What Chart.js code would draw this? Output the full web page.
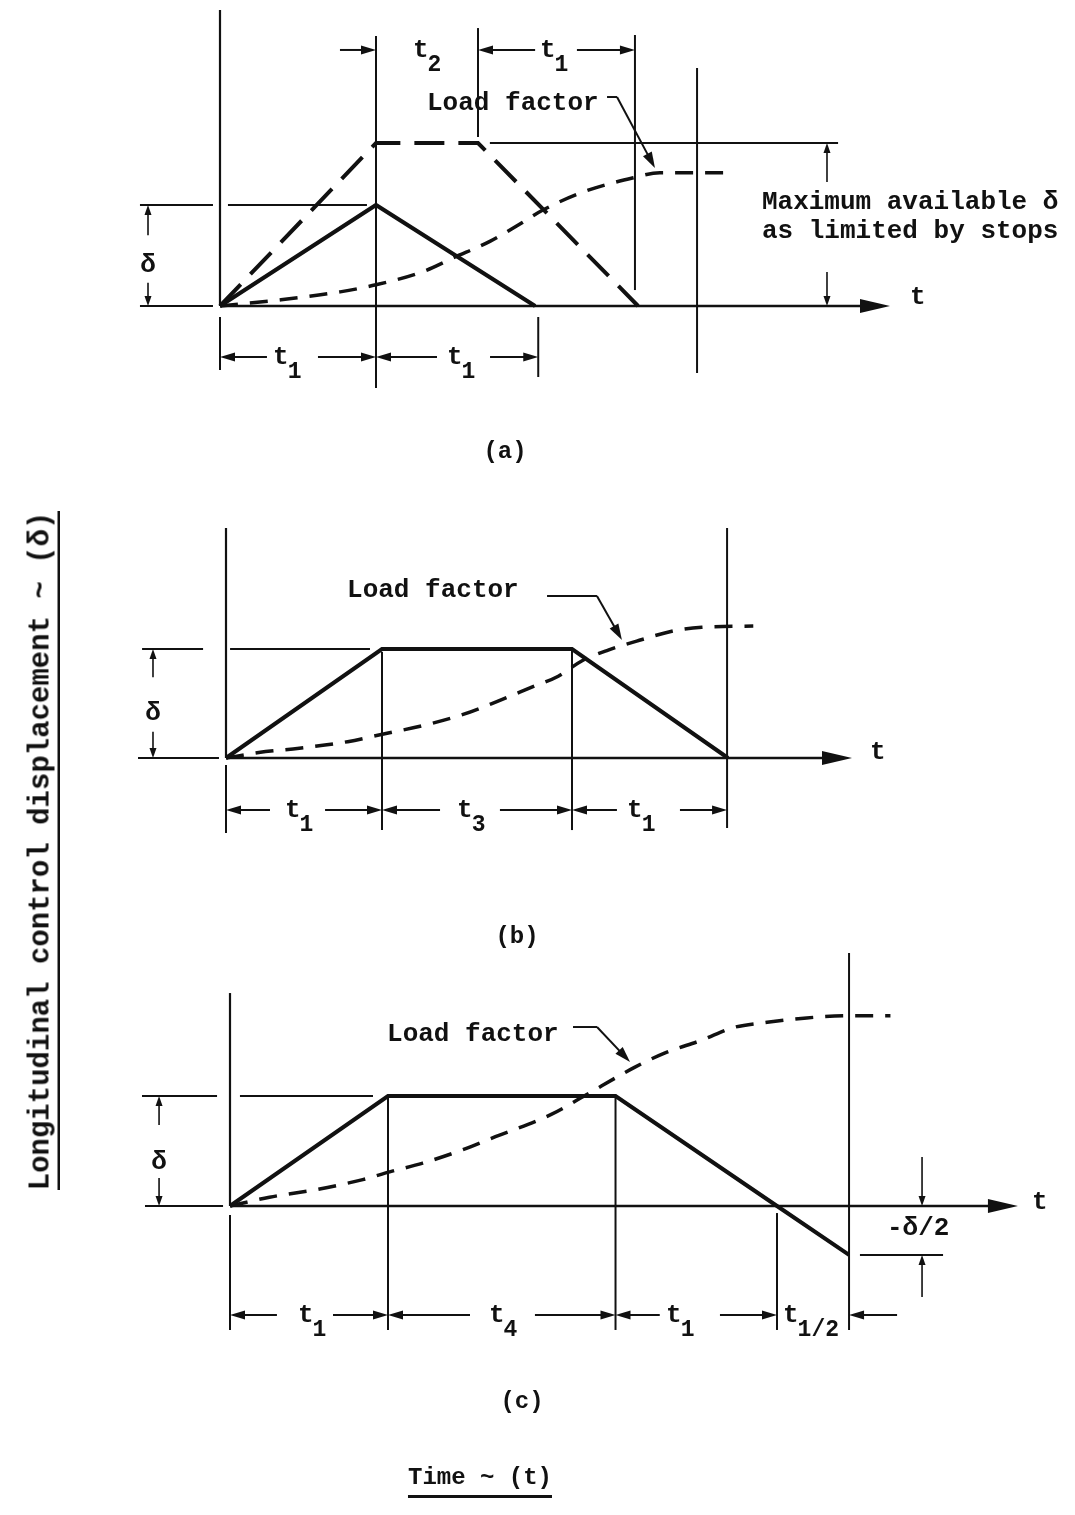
<!DOCTYPE html>
<html>
<head>
<meta charset="utf-8">
<script src="https://cdn.jsdelivr.net/npm/chart.js@4.4.1/dist/chart.umd.min.js"></script>
<style>
  body { margin: 0; background: #fff; width: 1075px; height: 1515px; position: relative; overflow: hidden; }
  canvas { position: absolute; left: 0; top: 0; }
  .cap { position: absolute; font: bold 24px "Liberation Mono", monospace; color: #111;
         transform: translate(-50%, -50%); white-space: nowrap; line-height: 1; }
  .ylab { position: absolute; left: 43px; top: 851px; font: bold 29px "Liberation Mono", monospace; color: #111;
          transform: translate(-50%, -50%) rotate(-90deg); white-space: nowrap; line-height: 1;
          border-bottom: 2px solid #111; padding-bottom: 2px; }
  .xlab { position: absolute; left: 480px; top: 1482px; font: bold 24px "Liberation Mono", monospace; color: #111;
          transform: translate(-50%, -50%); white-space: nowrap; line-height: 1;
          border-bottom: 3px solid #111; padding-bottom: 5px; }
</style>
</head>
<body>
<canvas id="pa" width="1075" height="1515"></canvas>
<canvas id="pb" width="1075" height="1515"></canvas>
<canvas id="pc" width="1075" height="1515"></canvas>
<div class="cap" style="left:505px; top:452px">(a)</div>
<div class="cap" style="left:517px; top:937px">(b)</div>
<div class="cap" style="left:522px; top:1402px">(c)</div>
<div class="ylab">Longitudinal control displacement ~ (δ)</div>
<div class="xlab">Time ~ (t)</div>
<script>
// time is in units of t1, displacement in units of delta

// (a) stick pulse, pulse limited by stops, load factor
var aStickT = [0, 1, 2.02];
var aStickD = [0, 1, 0];
var aStopT = [0, 1, 1.654, 2.68];
var aStopD = [0, 1.614, 1.614, 0];
var aLoadT = [0, 0.38, 0.77, 1.0, 1.30, 1.50, 1.73, 1.92, 2.07, 2.33, 2.65, 2.82, 3.06, 3.27];
var aLoadN = [0, 0.06, 0.14, 0.21, 0.34, 0.48, 0.64, 0.81, 0.95, 1.13, 1.27, 1.32, 1.32, 1.32];

// (b) hold for t3
var bStickT = [0, 1, 2.218, 3.218];
var bStickD = [0, 1, 1, 0];
var bLoadT = [0, 0.21, 0.47, 0.78, 1.01, 1.27, 1.52, 1.74, 1.96, 2.13, 2.28, 2.45, 2.65, 2.88, 3.05, 3.38];
var bLoadN = [0, 0.05, 0.09, 0.15, 0.22, 0.30, 0.40, 0.52, 0.65, 0.75, 0.89, 0.99, 1.08, 1.17, 1.20, 1.21];

// (c) hold for t4, then check to -delta/2
var cStickT = [0, 1, 2.44, 3.462, 3.918];
var cStickD = [0, 1, 1, 0, -0.445];
var cLoadT = [0, 0.25, 0.55, 0.84, 1.01, 1.22, 1.47, 1.68, 2.03, 2.23, 2.56, 2.75, 2.99, 3.18, 3.40, 3.65, 3.92, 4.18];
var cLoadN = [0, 0.08, 0.15, 0.24, 0.31, 0.39, 0.51, 0.63, 0.83, 0.99, 1.26, 1.39, 1.51, 1.62, 1.67, 1.71, 1.73, 1.73];

var W = 1075, H = 1515;
var INK = '#111';
var FONT = '"Liberation Mono", "DejaVu Sans Mono", monospace';

// arrowhead shapes: length, half width
var HEADS = {
  small: { len: 10, hw: 3.5 },
  dim:   { len: 15, hw: 4.5 },
  lead:  { len: 16, hw: 5 },
  big:   { len: 30, hw: 7 }
};

function pts(xs, ys) {
  return xs.map(function(x, i) { return { x: x, y: ys[i] }; });
}

function sketchPlugin(notes) {
  return {
    id: 'sketch',
    beforeDatasetsDraw: function(chart) {
      var ctx = chart.ctx, sx = chart.scales.x, sy = chart.scales.y;
      ctx.save();
      ctx.strokeStyle = INK;
      ctx.fillStyle = INK;
      ctx.lineCap = 'butt';
      notes.lines.forEach(function(l) {
        var x1 = sx.getPixelForValue(l[0]), y1 = sy.getPixelForValue(l[1]);
        var x2 = sx.getPixelForValue(l[2]), y2 = sy.getPixelForValue(l[3]);
        var head = HEADS[l[5]];
        var dx = x2 - x1, dy = y2 - y1, d = Math.sqrt(dx * dx + dy * dy) || 1;
        var ux = dx / d, uy = dy / d;
        var ex = x2, ey = y2;
        if (head) { ex = x2 - ux * head.len * 0.7; ey = y2 - uy * head.len * 0.7; }
        ctx.lineWidth = l[4] || 2;
        ctx.beginPath();
        ctx.moveTo(x1, y1);
        ctx.lineTo(ex, ey);
        ctx.stroke();
        if (head) {
          ctx.beginPath();
          ctx.moveTo(x2, y2);
          ctx.lineTo(x2 - ux * head.len - uy * head.hw, y2 - uy * head.len + ux * head.hw);
          ctx.lineTo(x2 - ux * head.len + uy * head.hw, y2 - uy * head.len - ux * head.hw);
          ctx.closePath();
          ctx.fill();
        }
      });
      ctx.restore();
    },
    afterDatasetsDraw: function(chart) {
      var ctx = chart.ctx, sx = chart.scales.x, sy = chart.scales.y;
      ctx.save();
      ctx.fillStyle = INK;
      notes.texts.forEach(function(t) {
        var x = sx.getPixelForValue(t[1]), y = sy.getPixelForValue(t[2]);
        var size = t[5] || 26;
        ctx.font = 'bold ' + size + 'px ' + FONT;
        ctx.textBaseline = 'middle';
        ctx.textAlign = 'left';
        var w = ctx.measureText(t[0]).width;
        var left = t[4] === 'center' ? x - w / 2 : x;
        ctx.fillText(t[0], left, y);
        if (t[3]) {
          ctx.font = 'bold 23px ' + FONT;
          ctx.textBaseline = 'alphabetic';
          ctx.fillText(t[3], left + w - 1, y + 21);
        }
      });
      ctx.restore();
    }
  };
}

function makePanel(id, frame, sets, notes) {
  var datasets = sets.map(function(s) {
    return {
      data: s.data,
      showLine: true,
      borderColor: INK,
      borderWidth: s.width,
      borderDash: s.dash || [],
      borderCapStyle: 'butt',
      borderJoinStyle: 'miter',
      pointRadius: 0,
      fill: false,
      tension: s.smooth ? 0.4 : 0,
      cubicInterpolationMode: s.smooth ? 'monotone' : 'default'
    };
  });
  return new Chart(document.getElementById(id), {
    type: 'scatter',
    data: { datasets: datasets },
    options: {
      responsive: false,
      animation: false,
      devicePixelRatio: 1,
      layout: { padding: 0 },
      events: [],
      plugins: { legend: { display: false }, tooltip: { enabled: false } },
      scales: {
        x: { type: 'linear', display: false, min: -frame.ox / frame.tx, max: (W - frame.ox) / frame.tx },
        y: { type: 'linear', display: false, min: (frame.oy - H) / frame.dy, max: frame.oy / frame.dy }
      }
    },
    plugins: [sketchPlugin(notes)]
  });
}

// ---------- (a) ----------
makePanel('pa', { ox: 220, oy: 306, tx: 156, dy: 101 }, [
  { data: pts(aStickT, aStickD), width: 4 },
  { data: pts(aStopT, aStopD), width: 4, dash: [30, 14] },
  { data: pts(aLoadT, aLoadN), width: 3.5, dash: [18, 12], smooth: true }
], {
  lines: [
    [0, 2.93, 0, 0, 2.2],
    [0, 0, 4.295, 0, 2.5, 'big'],
    [-0.513, 0, -0.045, 0],
    [-0.513, 1, -0.045, 1],
    [0.051, 1, 0.942, 1],
    [1, 2.673, 1, -0.812],
    [1.654, 2.752, 1.654, 1.673],
    [2.66, 2.683, 2.66, 0.158],
    [3.058, 2.356, 3.058, -0.663],
    [1.73, 1.614, 3.962, 1.614],
    [0, -0.109, 0, -0.634],
    [2.04, -0.109, 2.04, -0.703],
    [-0.4615, 0.70, -0.4615, 1, 1.6, 'small'],
    [-0.4615, 0.23, -0.4615, 0, 1.6, 'small'],
    [3.891, 1.228, 3.891, 1.614, 1.6, 'small'],
    [3.891, 0.337, 3.891, 0, 1.6, 'small'],
    [0.769, 2.535, 1, 2.535, 2, 'dim'],
    [2.02, 2.535, 1.654, 2.535, 2, 'dim'],
    [2.288, 2.535, 2.66, 2.535, 2, 'dim'],
    [0.301, -0.505, 0, -0.505, 2, 'dim'],
    [0.628, -0.505, 1, -0.505, 2, 'dim'],
    [1.391, -0.505, 1, -0.505, 2, 'dim'],
    [1.731, -0.505, 2.04, -0.505, 2, 'dim'],
    [2.481, 2.069, 2.545, 2.069, 2],
    [2.545, 2.069, 2.788, 1.366, 2, 'lead']
  ],
  texts: [
    ['δ', -0.4615, 0.406, null, 'center'],
    ['t', 1.237, 2.535, '2'],
    ['t', 2.051, 2.535, '1'],
    ['t', 0.34, -0.505, '1'],
    ['t', 1.455, -0.505, '1'],
    ['Load factor', 1.327, 2.01],
    ['Maximum available δ', 3.474, 1.03],
    ['as limited by stops', 3.474, 0.743],
    ['t', 4.423, 0.084]
  ]
});

// ---------- (b) ----------
makePanel('pb', { ox: 226, oy: 758, tx: 156, dy: 109 }, [
  { data: pts(bStickT, bStickD), width: 4 },
  { data: pts(bLoadT, bLoadN), width: 3.5, dash: [18, 12], smooth: true }
], {
  lines: [
    [0, 2.11, 0, 0, 2.2],
    [0, 0, 4.013, 0, 2.5, 'big'],
    [-0.564, 0, -0.045, 0],
    [-0.538, 1, -0.147, 1],
    [0.026, 1, 0.923, 1],
    [1, 0.972, 1, -0.661],
    [2.218, 0.99, 2.218, -0.661],
    [3.212, 2.11, 3.212, -0.642],
    [0, -0.064, 0, -0.688],
    [-0.468, 0.74, -0.468, 1, 1.6, 'small'],
    [-0.468, 0.24, -0.468, 0, 1.6, 'small'],
    [0.282, -0.477, 0, -0.477, 2, 'dim'],
    [0.635, -0.477, 1, -0.477, 2, 'dim'],
    [1.372, -0.477, 1, -0.477, 2, 'dim'],
    [1.756, -0.477, 2.218, -0.477, 2, 'dim'],
    [2.506, -0.477, 2.218, -0.477, 2, 'dim'],
    [2.91, -0.477, 3.212, -0.477, 2, 'dim'],
    [2.058, 1.486, 2.378, 1.486, 2],
    [2.378, 1.486, 2.538, 1.083, 2, 'lead']
  ],
  texts: [
    ['δ', -0.468, 0.413, null, 'center'],
    ['t', 0.378, -0.477, '1'],
    ['t', 1.481, -0.477, '3'],
    ['t', 2.571, -0.477, '1'],
    ['Load factor', 0.776, 1.541],
    ['t', 4.128, 0.055]
  ]
});

// ---------- (c) ----------
makePanel('pc', { ox: 230, oy: 1206, tx: 158, dy: 110 }, [
  { data: pts(cStickT, cStickD), width: 4 },
  { data: pts(cLoadT, cLoadN), width: 3.5, dash: [18, 12], smooth: true }
], {
  lines: [
    [0, 1.936, 0, 0, 2.2],
    [0, 0, 4.987, 0, 2.5, 'big'],
    [-0.538, 0, -0.044, 0],
    [-0.557, 1, -0.082, 1],
    [0.063, 1, 0.905, 1],
    [1, 0.99, 1, -1.127],
    [2.44, 0.99, 2.44, -1.127],
    [3.462, -0.064, 3.462, -1.127],
    [3.918, 2.3, 3.918, -1.127],
    [0, -0.082, 0, -1.127],
    [3.987, -0.445, 4.513, -0.445],
    [-0.449, 0.736, -0.449, 1, 1.6, 'small'],
    [-0.449, 0.255, -0.449, 0, 1.6, 'small'],
    [4.38, 0.445, 4.38, 0, 1.6, 'small'],
    [4.38, -0.827, 4.38, -0.445, 1.6, 'small'],
    [0.297, -0.991, 0, -0.991, 2, 'dim'],
    [0.652, -0.991, 1, -0.991, 2, 'dim'],
    [1.519, -0.991, 1, -0.991, 2, 'dim'],
    [1.930, -0.991, 2.44, -0.991, 2, 'dim'],
    [2.72, -0.991, 2.44, -0.991, 2, 'dim'],
    [3.101, -0.991, 3.462, -0.991, 2, 'dim'],
    [4.222, -0.991, 3.918, -0.991, 2, 'dim'],
    [2.171, 1.627, 2.323, 1.627, 2],
    [2.323, 1.627, 2.532, 1.309, 2, 'lead']
  ],
  texts: [
    ['δ', -0.449, 0.4, null, 'center'],
    ['t', 0.43, -0.991, '1'],
    ['t', 1.639, -0.991, '4'],
    ['t', 2.76, -0.991, '1'],
    ['t', 3.5, -0.991, '1/2'],
    ['-δ/2', 4.158, -0.2],
    ['Load factor', 0.994, 1.555],
    ['t', 5.076, 0.03]
  ]
});
</script>
</body>
</html>
